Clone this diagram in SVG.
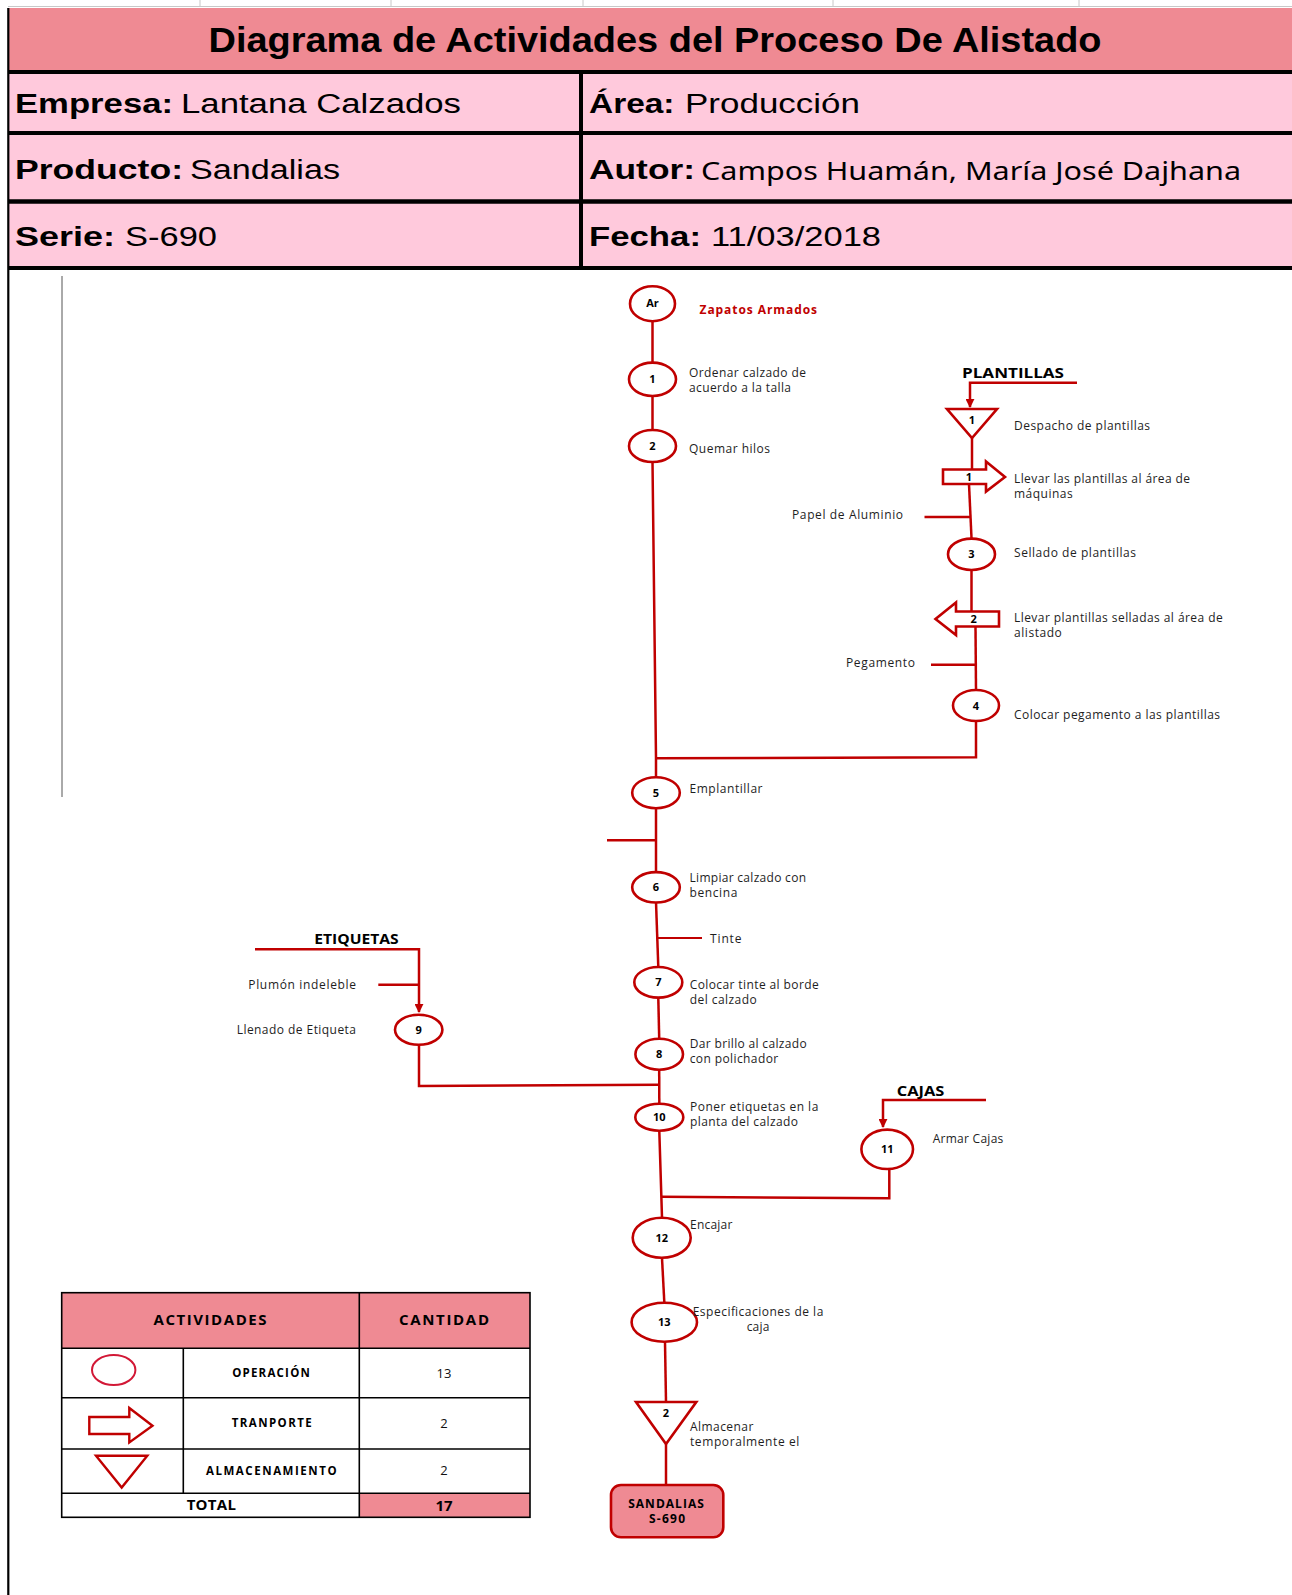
<svg xmlns="http://www.w3.org/2000/svg" width="1292" height="1595" viewBox="0 0 1292 1595">
  <style>
    .title { font-family: "Liberation Sans", Arial, sans-serif; font-weight: bold; font-size: 35px; fill: #000; }
    .hb { font-family: "Liberation Sans", Arial, sans-serif; font-weight: bold; font-size: 27px; fill: #000; }
    .hr { font-family: "Liberation Sans", Arial, sans-serif; font-size: 27px; fill: #000; }
    .hc { font-family: "Noto Sans", "Open Sans", sans-serif; font-size: 26px; fill: #000; }
    .grid { stroke: #000; fill: none; }
    .flow { stroke: #C00000; stroke-width: 2.5; fill: none; }
    .feed { stroke: #C00000; stroke-width: 2.2; fill: none; }
    .shape { fill: #fff; stroke: #C00000; stroke-width: 2.6; }
    .lbl { font-family: "Open Sans", "Noto Sans", sans-serif; font-size: 12px; fill: #1e1e1e; }
    .num { font-family: "Open Sans", "Noto Sans", sans-serif; font-size: 11px; font-weight: bold; fill: #000; text-anchor: middle; }
    .head { font-family: "Open Sans", "Noto Sans", sans-serif; font-size: 14px; font-weight: bold; fill: #000; }
    .red { font-family: "Open Sans", "Noto Sans", sans-serif; font-size: 12px; font-weight: bold; fill: #C00000; }
    .tb { stroke: #000; stroke-width: 1.6; fill: none; }
    .th { font-family: "Open Sans", "Noto Sans", sans-serif; font-size: 15px; font-weight: bold; fill: #000; text-anchor: middle; }
    .tl { font-family: "Open Sans", "Noto Sans", sans-serif; font-size: 11.5px; font-weight: bold; fill: #000; text-anchor: middle; }
    .tv { font-family: "Open Sans", "Noto Sans", sans-serif; font-size: 13px; fill: #111; text-anchor: middle; }
    .box { font-family: "Open Sans", "Noto Sans", sans-serif; font-size: 12px; font-weight: bold; fill: #000; text-anchor: middle; }
    .pink { fill: #EF8A93; }
  </style>
  <defs>
    <marker id="tip" viewBox="0 0 10 10" refX="9" refY="5" markerWidth="3.6" markerHeight="3.6" orient="auto" markerUnits="strokeWidth">
      <path d="M0,0 L10,5 L0,10 Z" fill="#C00000"/>
    </marker>
  </defs>

  <rect width="1292" height="1595" fill="#fff"/>

  <!-- sheet edge with column ticks -->
  <g id="sheet-edge" stroke="#c8c8c8" stroke-width="1">
    <line x1="8" y1="6.5" x2="1292" y2="6.5"/>
    <line x1="200" y1="0" x2="200" y2="7"/>
    <line x1="391" y1="0" x2="391" y2="7"/>
    <line x1="583" y1="0" x2="583" y2="7"/>
    <line x1="833" y1="0" x2="833" y2="7"/>
    <line x1="1079" y1="0" x2="1079" y2="7"/>
  </g>

  <!-- header block -->
  <g id="header">
    <rect x="8" y="8" width="1284" height="63" class="pink"/>
    <rect x="8" y="72" width="1284" height="196" fill="#FFC9DC"/>
    <g class="grid">
      <line x1="8" y1="72" x2="1292" y2="72" stroke-width="4"/>
      <line x1="8" y1="133" x2="1292" y2="133" stroke-width="4"/>
      <line x1="8" y1="201.5" x2="1292" y2="201.5" stroke-width="4.5"/>
      <line x1="8" y1="268" x2="1292" y2="268" stroke-width="4"/>
      <line x1="581" y1="72" x2="581" y2="268" stroke-width="4"/>
      <line x1="8.3" y1="8" x2="8.3" y2="1595" stroke-width="2.2"/>
    </g>
    <text class="title" x="208.5" y="51.7" textLength="893" lengthAdjust="spacingAndGlyphs">Diagrama de Actividades del Proceso De Alistado</text>

    <text class="hb" x="15" y="113" textLength="158" lengthAdjust="spacingAndGlyphs">Empresa:</text>
    <text class="hr" x="181" y="113" textLength="280" lengthAdjust="spacingAndGlyphs">Lantana Calzados</text>
    <text class="hb" x="589" y="113" textLength="85.5" lengthAdjust="spacingAndGlyphs">Área:</text>
    <text class="hr" x="685" y="113" textLength="175" lengthAdjust="spacingAndGlyphs">Producción</text>

    <text class="hb" x="15" y="179" textLength="168" lengthAdjust="spacingAndGlyphs">Producto:</text>
    <text class="hr" x="190" y="179" textLength="150" lengthAdjust="spacingAndGlyphs">Sandalias</text>
    <text class="hb" x="589" y="179" textLength="106" lengthAdjust="spacingAndGlyphs">Autor:</text>
    <text class="hc" x="701" y="180" textLength="540" lengthAdjust="spacingAndGlyphs">Campos Huamán, María José Dajhana</text>

    <text class="hb" x="15" y="246" textLength="100" lengthAdjust="spacingAndGlyphs">Serie:</text>
    <text class="hr" x="125" y="246" textLength="92" lengthAdjust="spacingAndGlyphs">S-690</text>
    <text class="hb" x="589" y="246" textLength="112" lengthAdjust="spacingAndGlyphs">Fecha:</text>
    <text class="hr" x="711" y="246" textLength="170" lengthAdjust="spacingAndGlyphs">11/03/2018</text>
  </g>

  <!-- thin guide line on the left -->
  <line x1="62" y1="276" x2="62" y2="797" stroke="#555" stroke-width="1"/>

  <!-- connectors -->
  <g id="connectors">
    <!-- main line -->
    <line class="flow" x1="652.5" y1="321" x2="652.5" y2="362"/>
    <line class="flow" x1="652.5" y1="396" x2="652.5" y2="430"/>
    <polyline class="flow" points="652.5,462 656,758 656,777"/>
    <line class="flow" x1="656" y1="808" x2="656" y2="872"/>
    <line class="flow" x1="607" y1="840.3" x2="656" y2="840.3" stroke-width="3.4"/>
    <line class="flow" x1="656" y1="902" x2="658.3" y2="967"/>
    <line class="feed" x1="656.5" y1="938" x2="702" y2="938"/>
    <line class="flow" x1="658.3" y1="998" x2="659.2" y2="1038"/>
    <line class="flow" x1="659.2" y1="1070" x2="659.3" y2="1103"/>
    <polyline class="flow" points="419,1045 419,1086 659.3,1084.7"/>
    <line class="flow" x1="659.3" y1="1131" x2="662" y2="1217"/>
    <polyline class="flow" points="889.3,1169 889.3,1198.3 661.7,1196.7"/>
    <line class="flow" x1="662" y1="1258" x2="664.3" y2="1302"/>
    <line class="flow" x1="665" y1="1342" x2="666" y2="1402"/>
    <line class="flow" x1="666" y1="1444" x2="666" y2="1485"/>

    <!-- plantillas branch -->
    <polyline class="flow" points="1077,382.7 970,382.7 970,407" marker-end="url(#tip)"/>
    <line class="flow" x1="972" y1="438" x2="972" y2="469"/>
    <line class="flow" x1="969" y1="484" x2="971.5" y2="538"/>
    <line class="flow" x1="924.5" y1="517" x2="970" y2="517"/>
    <line class="flow" x1="971.5" y1="570" x2="971.5" y2="611"/>
    <line class="flow" x1="975.5" y1="627" x2="976" y2="690"/>
    <line class="flow" x1="931" y1="664.7" x2="975.5" y2="664.7"/>
    <polyline class="flow" points="976,721 976,757.3 656,758.3"/>

    <!-- etiquetas branch -->
    <polyline class="flow" points="255,949.3 419,949.3 419,1012" marker-end="url(#tip)"/>
    <line class="flow" x1="378.3" y1="984.7" x2="419" y2="984.7"/>

    <!-- cajas branch -->
    <polyline class="flow" points="986,1100 883,1100 883,1127" marker-end="url(#tip)"/>
  </g>

  <!-- nodes -->
  <g id="node-ar">
    <ellipse class="shape" cx="652.5" cy="303.7" rx="22.5" ry="17.5"/>
    <text class="num" x="652.5" y="307.2" font-size="10">Ar</text>
    <text class="red" x="699.5" y="314" textLength="117.5">Zapatos Armados</text>
  </g>
  <g id="node-op1">
    <ellipse class="shape" cx="652.5" cy="379.3" rx="23.5" ry="16.7"/>
    <text class="num" x="652.5" y="383.3">1</text>
    <text class="lbl" x="689" y="377" textLength="117">Ordenar calzado de</text>
    <text class="lbl" x="689" y="392" textLength="102">acuerdo a la talla</text>
  </g>
  <g id="node-op2">
    <ellipse class="shape" cx="652.5" cy="446" rx="23.5" ry="16"/>
    <text class="num" x="652.5" y="450">2</text>
    <text class="lbl" x="689" y="453" textLength="81">Quemar hilos</text>
  </g>
  <g id="node-plantillas">
    <text class="head" x="962" y="378" textLength="102" lengthAdjust="spacingAndGlyphs">PLANTILLAS</text>
  </g>
  <g id="node-store1">
    <polygon class="shape" points="947,409 997,409 972,438"/>
    <text class="num" x="972" y="423.5">1</text>
    <text class="lbl" x="1014" y="430" textLength="136">Despacho de plantillas</text>
  </g>
  <g id="node-move1">
    <polygon class="shape" points="943,469.5 986,469.5 986,461.5 1005,477 986,491.5 986,484 943,484"/>
    <text class="num" x="969" y="480.5">1</text>
    <text class="lbl" x="1014" y="483" textLength="176">Llevar las plantillas al área de</text>
    <text class="lbl" x="1014" y="498" textLength="58.7">máquinas</text>
  </g>
  <g id="node-papel">
    <text class="lbl" x="792" y="519" textLength="111">Papel de Aluminio</text>
  </g>
  <g id="node-op3">
    <ellipse class="shape" cx="971.5" cy="554.3" rx="23.5" ry="15.7"/>
    <text class="num" x="971.5" y="558.3">3</text>
    <text class="lbl" x="1014" y="557" textLength="122">Sellado de plantillas</text>
  </g>
  <g id="node-move2">
    <polygon class="shape" points="999,611.5 956,611.5 956,602.5 935.5,619 956,635 956,626.5 999,626.5"/>
    <text class="num" x="973.6" y="622.5">2</text>
    <text class="lbl" x="1014" y="622.3" textLength="208.7">Llevar plantillas selladas al área de</text>
    <text class="lbl" x="1014" y="637.3" textLength="47.8">alistado</text>
  </g>
  <g id="node-pegamento">
    <text class="lbl" x="846" y="667" textLength="69">Pegamento</text>
  </g>
  <g id="node-op4">
    <ellipse class="shape" cx="976" cy="705.5" rx="23" ry="15.5"/>
    <text class="num" x="976" y="709.5">4</text>
    <text class="lbl" x="1014" y="719.3" textLength="206">Colocar pegamento a las plantillas</text>
  </g>
  <g id="node-op5">
    <ellipse class="shape" cx="656" cy="792.7" rx="23.8" ry="15.5"/>
    <text class="num" x="656" y="796.7">5</text>
    <text class="lbl" x="689.5" y="793.3" textLength="73">Emplantillar</text>
  </g>
  <g id="node-op6">
    <ellipse class="shape" cx="656" cy="887.3" rx="23.8" ry="15.2"/>
    <text class="num" x="656" y="891.3">6</text>
    <text class="lbl" x="689.5" y="882.3" textLength="116.5">Limpiar calzado con</text>
    <text class="lbl" x="689.5" y="897.3" textLength="47.8">bencina</text>
  </g>
  <g id="node-tinte">
    <text class="lbl" x="710" y="942.5" textLength="31.5">Tinte</text>
  </g>
  <g id="node-op7">
    <ellipse class="shape" cx="658.3" cy="982.3" rx="24" ry="15.3"/>
    <text class="num" x="658.3" y="986.3">7</text>
    <text class="lbl" x="689.7" y="988.5" textLength="129">Colocar tinte al borde</text>
    <text class="lbl" x="689.7" y="1003.5" textLength="67">del calzado</text>
  </g>
  <g id="node-op8">
    <ellipse class="shape" cx="659.2" cy="1054.2" rx="23.8" ry="15.5"/>
    <text class="num" x="659.2" y="1058.2">8</text>
    <text class="lbl" x="689.7" y="1047.5" textLength="117">Dar brillo al calzado</text>
    <text class="lbl" x="689.7" y="1062.5" textLength="88.5">con polichador</text>
  </g>
  <g id="node-etiquetas">
    <text class="head" x="314.3" y="944" textLength="84.4" lengthAdjust="spacingAndGlyphs">ETIQUETAS</text>
    <text class="lbl" x="248.3" y="989" textLength="107.7">Plumón indeleble</text>
  </g>
  <g id="node-op9">
    <ellipse class="shape" cx="418.7" cy="1029.7" rx="23.7" ry="15"/>
    <text class="num" x="418.7" y="1033.7">9</text>
    <text class="lbl" x="236.7" y="1034" textLength="119.3">Llenado de Etiqueta</text>
  </g>
  <g id="node-op10">
    <ellipse class="shape" cx="659.3" cy="1117.2" rx="24" ry="13.5"/>
    <text class="num" x="659.3" y="1121.2">10</text>
    <text class="lbl" x="690" y="1111" textLength="128.3">Poner etiquetas en la</text>
    <text class="lbl" x="690" y="1126" textLength="108">planta del calzado</text>
  </g>
  <g id="node-cajas">
    <text class="head" x="896.7" y="1095.7" textLength="47.6" lengthAdjust="spacingAndGlyphs">CAJAS</text>
  </g>
  <g id="node-op11">
    <ellipse class="shape" cx="887.2" cy="1149.3" rx="25.8" ry="19.7"/>
    <text class="num" x="887.2" y="1153.3">11</text>
    <text class="lbl" x="932.7" y="1143.3" textLength="70.6">Armar Cajas</text>
  </g>
  <g id="node-op12">
    <ellipse class="shape" cx="661.7" cy="1237.7" rx="29" ry="20"/>
    <text class="num" x="661.7" y="1241.7">12</text>
    <text class="lbl" x="690" y="1229.3" textLength="42.3">Encajar</text>
  </g>
  <g id="node-op13">
    <ellipse class="shape" cx="664.3" cy="1322.2" rx="32.7" ry="19.5"/>
    <text class="num" x="664.3" y="1326.2">13</text>
    <text class="lbl" x="692.7" y="1315.7" textLength="130.6">Especificaciones de la</text>
    <text class="lbl" x="746.7" y="1330.7" textLength="22.6">caja</text>
  </g>
  <g id="node-store2">
    <polygon class="shape" points="636,1402 696.3,1402 666,1444"/>
    <text class="num" x="666" y="1416.5">2</text>
    <text class="lbl" x="690" y="1430.7" textLength="63.3">Almacenar</text>
    <text class="lbl" x="690" y="1446" textLength="109.3">temporalmente el</text>
  </g>
  <g id="node-end">
    <rect x="611" y="1485" width="112.3" height="52.3" rx="10" fill="#EF8A93" stroke="#C00000" stroke-width="2.6"/>
    <text class="box" x="666" y="1508" textLength="75.7">SANDALIAS</text>
    <text class="box" x="667" y="1522.7" textLength="36">S-690</text>
  </g>

  <!-- summary table -->
  <g id="summary-table">
    <rect x="61.7" y="1292.7" width="468.3" height="55.6" class="pink"/>
    <rect x="359.3" y="1493.3" width="170.7" height="24" class="pink"/>
    <rect class="tb" x="61.7" y="1292.7" width="468.3" height="224.6"/>
    <line class="tb" x1="61.7" y1="1348.3" x2="530" y2="1348.3"/>
    <line class="tb" x1="61.7" y1="1397.7" x2="530" y2="1397.7"/>
    <line class="tb" x1="61.7" y1="1449" x2="530" y2="1449"/>
    <line class="tb" x1="61.7" y1="1493.3" x2="530" y2="1493.3"/>
    <line class="tb" x1="359.3" y1="1292.7" x2="359.3" y2="1517.3"/>
    <line class="tb" x1="183.3" y1="1348.3" x2="183.3" y2="1493.3"/>

    <text class="th" x="210" y="1325" textLength="113">ACTIVIDADES</text>
    <text class="th" x="444" y="1325" textLength="90">CANTIDAD</text>

    <ellipse cx="113.7" cy="1370" rx="21.7" ry="15" fill="none" stroke="#D21836" stroke-width="2"/>
    <text class="tl" x="271" y="1376.7" textLength="77.7">OPERACIÓN</text>
    <text class="tv" x="444" y="1378">13</text>

    <polygon points="89.3,1417 129.3,1417 129.3,1408 152.5,1425.7 129.3,1442.5 129.3,1434 89.3,1434" fill="none" stroke="#C00000" stroke-width="2.4"/>
    <text class="tl" x="271.7" y="1426.7" textLength="80">TRANPORTE</text>
    <text class="tv" x="444" y="1428">2</text>

    <polygon points="96,1455.7 147.3,1455.7 121.7,1487.5" fill="none" stroke="#C00000" stroke-width="2.4"/>
    <text class="tl" x="271.3" y="1475" textLength="130.7">ALMACENAMIENTO</text>
    <text class="tv" x="444" y="1475">2</text>

    <text class="th" x="211.3" y="1510" textLength="49.3">TOTAL</text>
    <text class="th" x="444" y="1511" font-size="13.5">17</text>
  </g>
</svg>
